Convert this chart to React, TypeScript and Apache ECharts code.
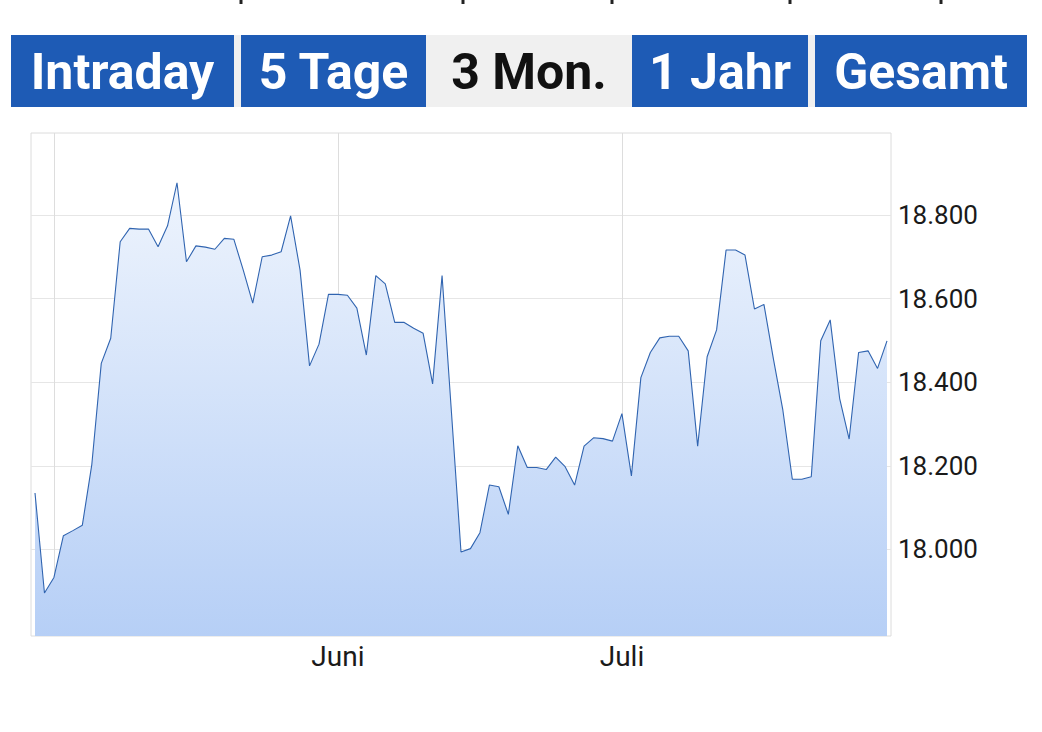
import React, { useEffect, useRef } from "react";
import * as echarts from "echarts";

// Daily index values (Apr 30 → Jul 29)
const values: number[] = [
  18135, 17896, 17933, 18033, 18045, 18058, 18203, 18445, 18505, 18736,
  18768, 18766, 18766, 18724, 18774, 18877, 18688, 18726, 18723, 18718,
  18744, 18742, 18668, 18589, 18700, 18704, 18712, 18798, 18668, 18439,
  18491, 18610, 18610, 18608, 18577, 18465, 18655, 18635, 18543, 18543,
  18529, 18517, 18396, 18655, 18325, 17994, 18002, 18040, 18154, 18150,
  18084, 18248, 18196, 18196, 18191, 18221, 18198, 18154, 18247, 18267,
  18265, 18259, 18325, 18176, 18411, 18471, 18506, 18510, 18510, 18475,
  18247, 18461, 18525, 18716, 18716, 18704, 18575, 18586, 18456, 18333,
  18168, 18168, 18174, 18499, 18549, 18361, 18264, 18471, 18475, 18433,
  18499,
];

// x-axis: month boundaries (day index) and their labels
const monthGridDays: number[] = [2, 32, 62];
const monthLabelDays: number[] = [32, 62];
const monthLabels: string[] = ["Juni", "Juli"];

// y-axis tick values
const yTicks: number[] = [18000, 18200, 18400, 18600, 18800];

// period buttons
const buttons: string[] = ["Intraday", "5 Tage", "3 Mon.", "1 Jahr", "Gesamt"];
const activeButton = "3 Mon.";

const fmtY = (v: number) => {
  const s = Math.round(v).toString();
  return s.slice(0, s.length - 3) + "." + s.slice(s.length - 3);
};

export default function App() {
  const ref = useRef<HTMLDivElement>(null);

  useEffect(() => {
    if (!ref.current) return;
    const chart = echarts.init(ref.current, undefined, { renderer: "svg" });

    const btnBoxes = [
      [11, 234],
      [241, 426],
      [426, 632],
      [632, 808],
      [815, 1027],
    ];
    const graphics: any[] = [
      {
        type: "rect",
        shape: { x: 11, y: 35, width: 1016, height: 72 },
        style: { fill: "#f0f0f0" },
        silent: true,
      },
    ];
    buttons.forEach((b, i) => {
      const [x0, x1] = btnBoxes[i];
      const active = b === activeButton;
      if (!active) {
        graphics.push({
          type: "rect",
          shape: { x: x0, y: 35, width: x1 - x0, height: 72 },
          style: { fill: "#1e5bb5" },
          silent: true,
        });
      }
      graphics.push({
        type: "text",
        x: (x0 + x1) / 2,
        y: 72,
        style: {
          text: b,
          fill: active ? "#111111" : "#ffffff",
          fontFamily: "Roboto",
          fontWeight: "bold",
          fontSize: 50,
          align: "center",
          verticalAlign: "middle",
          textAlign: "center",
          textVerticalAlign: "middle",
        },
        silent: true,
      });
    });
    [240, 462, 611, 789, 940].forEach((x) => {
      graphics.push({
        type: "rect",
        shape: { x: x - 0.5, y: 0, width: 3, height: 4 },
        style: { fill: "#222222" },
        silent: true,
      });
    });

    chart.setOption({
      animation: false,
      backgroundColor: "#ffffff",
      grid: {
        left: 31,
        top: 133,
        width: 860,
        height: 503,
        show: true,
        borderColor: "#dcdcdc",
        borderWidth: 1,
        backgroundColor: "transparent",
      },
      xAxis: {
        type: "value",
        min: -0.4225,
        max: values.length - 1 + 0.4225,
        axisLine: { show: false },
        axisTick: { show: false, customValues: monthGridDays },
        splitLine: { show: true, lineStyle: { color: "#dddddd", width: 1 } },
        axisLabel: {
          customValues: monthLabelDays,
          formatter: (v: number) => {
            const k = monthLabelDays.indexOf(Math.round(v));
            return k >= 0 ? monthLabels[k] : "";
          },
          color: "#1a1a1a",
          fontFamily: "Roboto",
          fontSize: 28,
          margin: 6,
        },
      },
      yAxis: {
        type: "value",
        position: "right",
        min: 17793,
        max: 18996,
        axisLine: { show: false },
        axisTick: { show: false, customValues: yTicks },
        splitLine: { show: true, lineStyle: { color: "#e6e6e6", width: 1 } },
        axisLabel: {
          customValues: yTicks,
          formatter: (v: number) => fmtY(v),
          color: "#1a1a1a",
          fontFamily: "Roboto",
          fontSize: 26,
          margin: 7,
        },
      },
      series: [
        {
          type: "line",
          data: values.map((v, i) => [i, v]),
          showSymbol: false,
          symbol: "none",
          lineStyle: { color: "#3064b0", width: 1.1 },
          areaStyle: {
            origin: "start",
            opacity: 1,
            color: new echarts.graphic.LinearGradient(0, 0, 0, 1, [
              { offset: 0, color: "#eef4fd" },
              { offset: 1, color: "#b6cff6" },
            ]),
          },
          silent: true,
        },
      ],
      graphic: graphics,
    });

    return () => chart.dispose();
  }, []);

  return (
    <div
      ref={ref}
      style={{ position: "fixed", left: 0, top: 0, width: 1042, height: 732, background: "#fff" }}
    />
  );
}
